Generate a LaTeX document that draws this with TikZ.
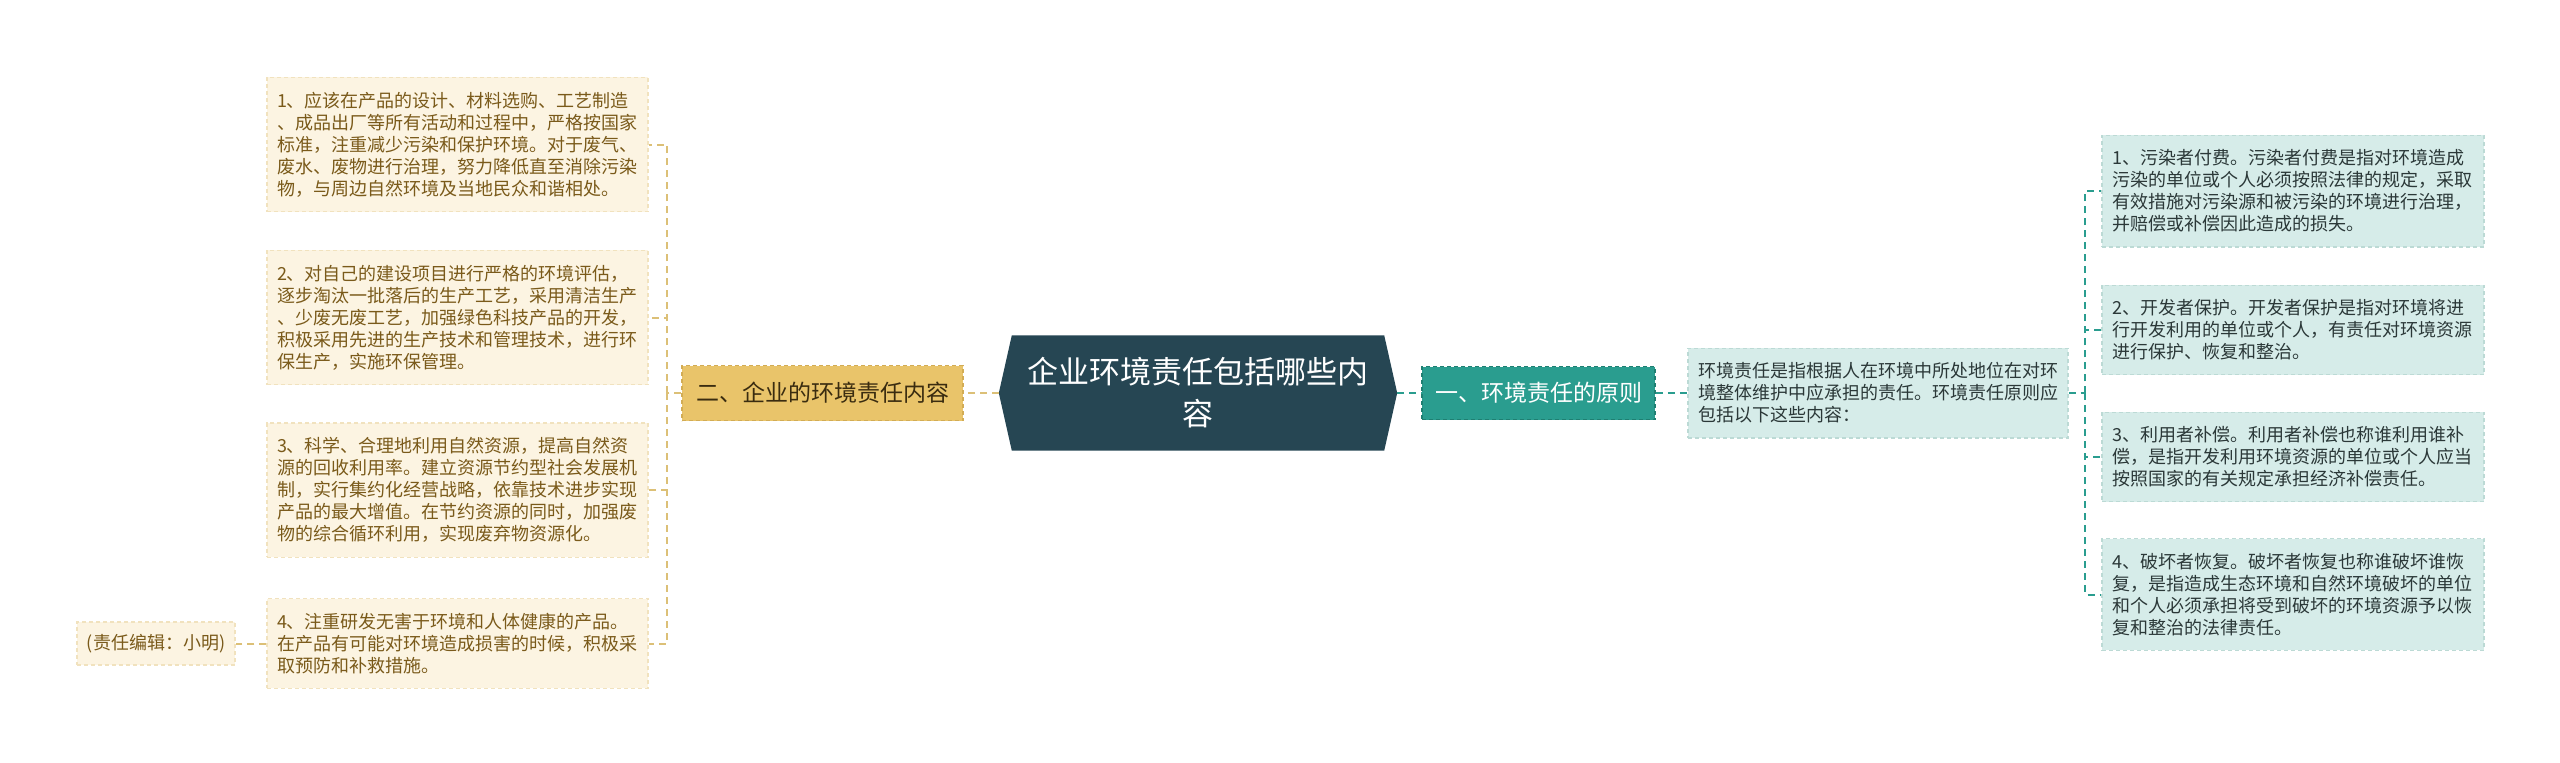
\documentclass[tikz,border=0pt]{standalone}
\usepackage{fontspec}
\setmainfont{Noto Sans CJK SC}
\usetikzlibrary{calc}
\pgfdeclarelayer{bg}
\pgfsetlayers{bg,main}
\definecolor{lfill}{HTML}{FCF4E2}
\definecolor{lbord}{HTML}{F1E2BE}
\definecolor{ltext}{HTML}{7A5A1A}
\definecolor{goldfill}{HTML}{E9C46A}
\definecolor{goldbord}{HTML}{D2AC55}
\definecolor{goldtext}{HTML}{3A2C10}
\definecolor{goldline}{HTML}{DCC077}
\definecolor{rootfill}{HTML}{264653}
\definecolor{tealfill}{HTML}{2A9D8F}
\definecolor{tealbord}{HTML}{1F7F72}
\definecolor{tealline}{HTML}{2A9D8F}
\definecolor{rfill}{HTML}{D6ECE9}
\definecolor{rbord}{HTML}{BCDAD5}
\definecolor{rtext}{HTML}{2B3838}
\tikzset{
  leafbase/.style={dashed, dash pattern=on 4pt off 3pt, line width=1.2pt,
    font=\fontsize{18}{22}\selectfont, align=left, inner xsep=10pt, inner ysep=14.5pt},
  lleaf/.style={leafbase, draw=lbord, fill=lfill, text=ltext, text width=361pt},
  rleaf/.style={leafbase, draw=rbord, fill=rfill, text=rtext, text width=362pt},
  midleaf/.style={leafbase, draw=rbord, fill=rfill, text=rtext, text width=360pt},
  editorbox/.style={leafbase, draw=lbord, fill=lfill, text=ltext, minimum width=158pt, inner xsep=0pt, minimum height=43pt, inner ysep=0pt},
  goldnode/.style={draw=goldbord, dashed, dash pattern=on 4pt off 3pt, line width=1.5pt, fill=goldfill, text=goldtext,
    font=\fontsize{23}{28}\selectfont, minimum width=281pt, minimum height=55pt, inner sep=0pt},
  tealnode/.style={draw=tealbord, dashed, dash pattern=on 4pt off 3pt, line width=1.5pt, fill=tealfill, text=white,
    font=\fontsize{23}{28}\selectfont, minimum width=233pt, minimum height=53pt, inner sep=0pt},
  rootnode/.style={text=white, font=\fontsize{31}{42}\selectfont, align=center, text width=370pt,
    minimum width=398pt, minimum height=115pt, inner sep=0pt},
  lconn/.style={draw=goldline, line width=2pt, dashed, dash pattern=on 7pt off 5pt},
  tconn/.style={draw=tealline, line width=2pt, dashed, dash pattern=on 7pt off 5pt},
}
\begin{document}
\begin{tikzpicture}[x=1pt,y=-1pt]
\useasboundingbox (0,0) rectangle (2560,763);

% root
\node[rootnode] (root) at (1198,393) {企业环境责任包括哪些内\\容};
\begin{pgfonlayer}{bg}
\fill[white] (0,0) rectangle (2560,763);
\fill[rootfill] ([xshift=13pt]root.north west) -- (root.west) -- ([xshift=13pt]root.south west)
  -- ([xshift=-13pt]root.south east) -- (root.east) -- ([xshift=-13pt]root.north east) -- cycle;
\end{pgfonlayer}

% left branch
\node[goldnode] (n2) at (822.5,393) {二、企业的环境责任内容};
\node[lleaf] (l1) at (457.5,144.5) {1、应该在产品的设计、材料选购、工艺制造\\、成品出厂等所有活动和过程中，严格按国家\\标准，注重减少污染和保护环境。对于废气、\\废水、废物进行治理，努力降低直至消除污染\\物，与周边自然环境及当地民众和谐相处。};
\node[lleaf] (l2) at (457.5,317.5) {2、对自己的建设项目进行严格的环境评估，\\逐步淘汰一批落后的生产工艺，采用清洁生产\\、少废无废工艺，加强绿色科技产品的开发，\\积极采用先进的生产技术和管理技术，进行环\\保生产，实施环保管理。};
\node[lleaf] (l3) at (457.5,490) {3、科学、合理地利用自然资源，提高自然资\\源的回收利用率。建立资源节约型社会发展机\\制，实行集约化经营战略，依靠技术进步实现\\产品的最大增值。在节约资源的同时，加强废\\物的综合循环利用，实现废弃物资源化。};
\node[lleaf] (l4) at (457.5,643.5) {4、注重研发无害于环境和人体健康的产品。\\在产品有可能对环境造成损害的时候，积极采\\取预防和补救措施。};
\node[editorbox] (ed) at (156,643.5) {(责任编辑：小明)};

\coordinate (bl) at (667,393);
\draw[lconn] (root.west) -- (n2.east);
\draw[lconn] (n2.west) -- (bl);
\draw[lconn] (bl) |- (l1.east);
\draw[lconn] (bl) |- (l2.east);
\draw[lconn] (bl) |- (l3.east);
\draw[lconn] (bl) |- (l4.east);
\draw[lconn] (l4.west) -- (ed.east);

% right branch
\node[tealnode] (n1) at (1538.5,393) {一、环境责任的原则};
\node[midleaf] (mid) at (1878,393) {环境责任是指根据人在环境中所处地位在对环\\境整体维护中应承担的责任。环境责任原则应\\包括以下这些内容：};
\node[rleaf] (r1) at (2293,191) {1、污染者付费。污染者付费是指对环境造成\\污染的单位或个人必须按照法律的规定，采取\\有效措施对污染源和被污染的环境进行治理，\\并赔偿或补偿因此造成的损失。};
\node[rleaf] (r2) at (2293,330) {2、开发者保护。开发者保护是指对环境将进\\行开发利用的单位或个人，有责任对环境资源\\进行保护、恢复和整治。};
\node[rleaf] (r3) at (2293,457) {3、利用者补偿。利用者补偿也称谁利用谁补\\偿，是指开发利用环境资源的单位或个人应当\\按照国家的有关规定承担经济补偿责任。};
\node[rleaf] (r4) at (2293,594.5) {4、破坏者恢复。破坏者恢复也称谁破坏谁恢\\复，是指造成生态环境和自然环境破坏的单位\\和个人必须承担将受到破坏的环境资源予以恢\\复和整治的法律责任。};

\coordinate (br) at (2085,393);
\draw[tconn] (root.east) -- (n1.west);
\draw[tconn] (n1.east) -- (mid.west);
\draw[tconn] (mid.east) -- (br);
\draw[tconn] (br) |- (r1.west);
\draw[tconn] (br) |- (r2.west);
\draw[tconn] (br) |- (r3.west);
\draw[tconn] (br) |- (r4.west);
\end{tikzpicture}
\end{document}
